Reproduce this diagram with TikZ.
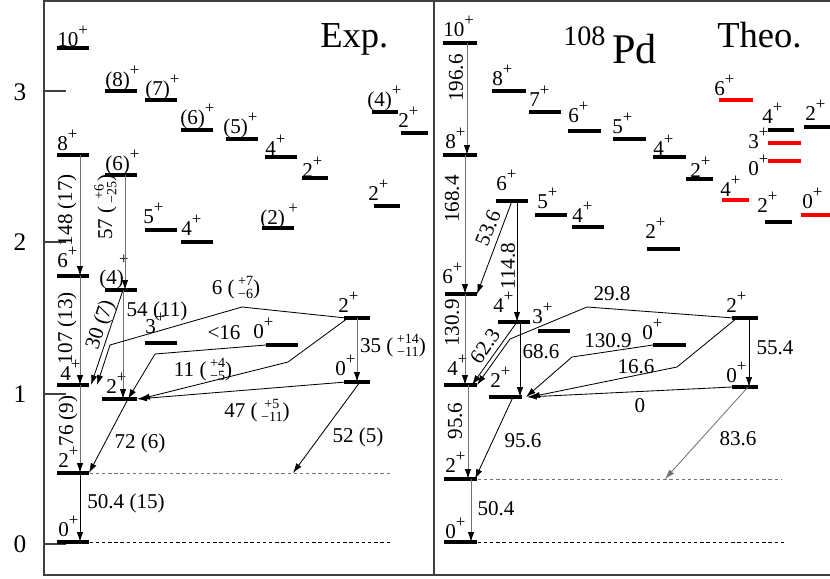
\documentclass[tikz,border=0pt]{standalone}
\usepackage{fontspec}
\setmainfont{Liberation Serif}
\usetikzlibrary{arrows.meta}
\newcommand{\pp}{\raisebox{7.3pt}{\fontsize{12}{12}\selectfont+}}
\newcommand{\unc}[2]{(\,$\vcenter{\hbox{\fontsize{10}{11}\selectfont\def\arraystretch{0.72}\begin{tabular}{@{}c@{}}#1\\#2\end{tabular}}}$)}
\tikzset{
  lev/.style={fill=black, inner sep=0pt, minimum height=2.3pt, anchor=west, minimum width=#1*0.025cm},
  rlev/.style={lev=#1, fill=red},
  spin/.style={anchor=base west, inner sep=0pt, font=\fontsize{15}{17}\selectfont},
  tlab/.style={inner sep=0pt, font=\fontsize{15}{17}\selectfont},
  tr/.style={line width=0.6pt, -{Latex[length=7pt,width=4.5pt]}},
  gtr/.style={tr, draw=black!55, -{Latex[length=7pt,width=4.5pt,color=black]}},
  band/.style={dash pattern=on 2.4pt off 2pt, line width=0.6pt},
  frame/.style={draw=black!75, line width=0.9pt},
  tick/.style={inner sep=0pt, font=\fontsize{18}{20}\selectfont},
}
\begin{document}
\begin{tikzpicture}[x=0.025cm, y=-0.025cm]
     \useasboundingbox (0,0) rectangle (830,579);
     % Frame and energy axis
     \draw[frame] (830,1) -- (44,1) -- (44,575) -- (830,575);
     \draw[frame] (434,1) -- (434,575);
     \draw[frame] (44,544) -- (66,544);
     \draw[frame] (44,394) -- (66,394);
     \draw[frame] (44,242) -- (66,242);
     \draw[frame] (44,91) -- (66,91);
     \node[tick] (y0) at (20,544) {0};
     \node[tick] (y1) at (20,394) {1};
     \node[tick] (y2) at (20,242) {2};
     \node[tick] (y3) at (20,92) {3};
     % Titles
     \node[anchor=base west, inner sep=0pt, font=\fontsize{26}{30}\selectfont] (exp) at (320,47) {Exp.};
     \node[anchor=base west, inner sep=0pt, font=\fontsize{26}{30}\selectfont] (theo) at (717,47) {Theo.};
     \node[anchor=base west, inner sep=0pt, font=\fontsize{20}{24}\selectfont] (mass) at (563,45) {108};
     \node[anchor=base west, inner sep=0pt, font=\fontsize{30}{34}\selectfont] (pd) at (612,63) {Pd};

     % ---------------- Exp. levels
     \node[lev=32] (eg0) at (57,542) {};
     \node[lev=32] (eg2) at (57,473) {};
     \node[lev=32] (eg4) at (57,385) {};
     \node[lev=32] (eg6) at (57,276) {};
     \node[lev=32] (eg8) at (57,155) {};
     \node[lev=32] (eg10) at (57,48) {};
     \node[lev=32] (eb8) at (105,91) {};
     \node[lev=32] (eb7) at (145,100) {};
     \node[lev=32] (eb6) at (181,130) {};
     \node[lev=32] (eb5) at (226,139) {};
     \node[lev=32] (eb4) at (265,157) {};
     \node[lev=26] (eb2) at (302,178) {};
     \node[lev=26] (es4) at (372,112) {};
     \node[lev=27] (es2) at (401,133) {};
     \node[lev=26] (et2) at (374,206) {};
     \node[lev=32] (ep2) at (262,228) {};
     \node[lev=32] (ec6) at (105,175) {};
     \node[lev=32] (ec5) at (145,230) {};
     \node[lev=32] (ec4) at (181,242) {};
     \node[lev=32] (ed4) at (105,290) {};
     \node[lev=32] (ed3) at (145,343) {};
     \node[lev=35] (ed2) at (102,399) {};
     \node[lev=32] (eo0) at (266,345) {};
     \node[lev=26] (eq2) at (344,318) {};
     \node[lev=26] (eq0) at (344,382) {};
     % spins
     \node[spin] (s-eg10) at (57,46) {10\pp};
     \node[spin] (s-eg8) at (57,150) {8\pp};
     \node[spin] (s-eg6) at (57,267) {6\pp};
     \node[spin] (s-eg4) at (60,380) {4\pp};
     \node[spin] (s-eg2) at (58,467) {2\pp};
     \node[spin] (s-eg0) at (58,536) {0\pp};
     \node[spin] (s-eb8) at (105,86) {(8)\pp};
     \node[spin] (s-eb7) at (145,95) {(7)\pp};
     \node[spin] (s-eb6) at (180,124) {(6)\pp};
     \node[spin] (s-eb5) at (223,133) {(5)\pp};
     \node[spin] (s-eb4) at (265,155) {4\pp};
     \node[spin] (s-eb2) at (302,177) {2\pp};
     \node[spin] (s-es4) at (367,106) {(4)\pp};
     \node[spin] (s-es2) at (398,127) {2\pp};
     \node[spin] (s-et2) at (368,200) {2\pp};
     \node[spin] (s-ep2) at (260,224) {(2)\,\pp};
     \node[spin] (s-ec6) at (105,170) {(6)\pp};
     \node[spin] (s-ec5) at (143,223) {5\pp};
     \node[spin] (s-ec4) at (181,235) {4\pp};
     \node[spin] (s-ed4) at (99,284) {(4)};
     \node[tlab, font=\fontsize{12}{12}\selectfont] (p-ed4) at (124,260) {+};
     \node[spin] (s-ed3) at (145,333) {3\pp};
     \node[spin] (s-eo0) at (253,338) {0\pp};
     \node[spin] (s-eq2) at (338,312) {2\pp};
     \node[spin] (s-eq0) at (335,375) {0\pp};
     \node[spin] (s-ed2) at (106,393) {2\pp};
     % transitions
     \draw[band, black!55] (eg2.east) -- (392,0 |- eg2);
     \draw[band] (eg0.east) -- (390,0 |- eg0);
     \draw[gtr] (80,0 |- eg8) -- (80,0 |- eg6);
     \draw[gtr] (80,0 |- eg6) -- (80,0 |- eg4);
     \draw[gtr] (80,0 |- eg4) -- (80,0 |- eg2);
     \draw[tr] (80,0 |- eg2) -- (80,0 |- eg0);
     \draw[gtr] (125,0 |- ec6) -- (125,0 |- ed4);
     \draw[tr] (123,0 |- ed4) -- (91,0 |- eg4);
     \draw[gtr] (123,0 |- ed4) -- (123,0 |- ed2);
     \draw[tr] (346,0 |- eq2) -- (242,307) -- (110,345) -- (97,0 |- eg4);
     \draw[tr] (266,0 |- eo0) -- (155,354) -- (128,0 |- ed2);
     \draw[tr] (348,0 |- eq2) -- (288,362) -- (140,0 |- ed2);
     \draw[tr] (346,0 |- eq0) -- (137,0 |- ed2);
     \draw[gtr] (357,0 |- eq2) -- (357,0 |- eq0);
     \draw[tr] (360,0 |- eq0) -- (293,0 |- eg2);
     \draw[tr] (128,0 |- ed2) -- (89,0 |- eg2);
     % B(E2) values
     \node[tlab, rotate=90] (g148) at (67,210) {148 (17)};
     \node[tlab, rotate=90] (g57) at (107,207) {57 \unc{+6}{−25}};
     \node[tlab, rotate=90] (g107) at (67,328) {107 (13)};
     \node[tlab, rotate=90] (g76) at (68,421) {76 (9)};
     \node[tlab, rotate=72] (g30) at (101,325) {30 (7)};
     \node[tlab] (g54) at (157,311) {54 (11)};
     \node[tlab] (g6) at (236,289) {6 \unc{+7}{−6}};
     \node[tlab] (g16) at (224,333) {<16};
     \node[tlab] (g11) at (203,371) {11 \unc{+4}{−5}};
     \node[tlab] (g35) at (393,347) {35 \unc{+14}{−11}};
     \node[tlab] (g47) at (257,412) {47 \unc{+5}{−11}};
     \node[tlab] (g72) at (140,443) {72 (6)};
     \node[tlab] (g52) at (358,437) {52 (5)};
     \node[tlab] (g50) at (126,503) {50.4 (15)};

     % ---------------- Theo. levels
     \node[lev=33] (tg0) at (444,542) {};
     \node[lev=33] (tg2) at (444,479) {};
     \node[lev=33] (tg4) at (444,385) {};
     \node[lev=32] (tg6) at (445,294) {};
     \node[lev=34] (tg8) at (443,155) {};
     \node[lev=34] (tg10) at (443,43) {};
     \node[lev=34] (tb8) at (492,91) {};
     \node[lev=32] (tb7) at (529,112) {};
     \node[lev=33] (tb6) at (568,131) {};
     \node[lev=33] (tb5) at (613,139) {};
     \node[lev=33] (tb4) at (653,157) {};
     \node[lev=27] (tb2) at (686,179) {};
     \node[rlev=34] (tr6) at (719,100) {};
     \node[lev=26] (tk4) at (768,130) {};
     \node[rlev=33] (tr3) at (768,143) {};
     \node[rlev=33] (tr0) at (768,161) {};
     \node[lev=26] (tk2) at (804,127) {};
     \node[rlev=27] (tr4) at (722,200) {};
     \node[lev=27] (tm2) at (765,222) {};
     \node[rlev=29] (tz0) at (801,215) {};
     \node[lev=33] (tn2) at (647,249) {};
     \node[lev=32] (tc6) at (496,201) {};
     \node[lev=32] (tc5) at (535,215) {};
     \node[lev=32] (tc4) at (572,227) {};
     \node[lev=32] (td4) at (498,322) {};
     \node[lev=32] (td3) at (538,331) {};
     \node[lev=33] (td2) at (489,397) {};
     \node[lev=33] (to0) at (653,345) {};
     \node[lev=26] (tq2) at (732,318) {};
     \node[lev=26] (tq0) at (732,387) {};
     % spins
     \node[spin] (s-tg10) at (443,36) {10\pp};
     \node[spin] (s-tg8) at (445,148) {8\pp};
     \node[spin] (s-tb8) at (492,85) {8\pp};
     \node[spin] (s-tb7) at (529,106) {7\pp};
     \node[spin] (s-tb6) at (568,122) {6\pp};
     \node[spin] (s-tb5) at (612,133) {5\pp};
     \node[spin] (s-tb4) at (653,155) {4\pp};
     \node[spin] (s-tb2) at (690,177) {2\pp};
     \node[spin] (s-tr6) at (714,95) {6\pp};
     \node[spin] (s-tk4) at (762,123) {4\pp};
     \node[spin] (s-tr3) at (748,148) {3\pp};
     \node[spin] (s-tr0) at (748,175) {0\pp};
     \node[spin] (s-tk2) at (805,120) {2\pp};
     \node[spin] (s-tr4) at (720,196) {4\pp};
     \node[spin] (s-tm2) at (757,212) {2\pp};
     \node[spin] (s-tz0) at (802,208) {0\pp};
     \node[spin] (s-tn2) at (645,238) {2\pp};
     \node[spin] (s-tg6) at (442,283) {6\pp};
     \node[spin] (s-tc6) at (496,190) {6\pp};
     \node[spin] (s-tc5) at (537,208) {5\pp};
     \node[spin] (s-tc4) at (572,222) {4\pp};
     \node[spin] (s-td4) at (493,312) {4\pp};
     \node[spin] (s-td3) at (532,323) {3\pp};
     \node[spin] (s-tg4) at (447,375) {4\pp};
     \node[spin] (s-td2) at (490,387) {2\pp};
     \node[spin] (s-to0) at (642,339) {0\pp};
     \node[spin] (s-tq2) at (726,312) {2\pp};
     \node[spin] (s-tq0) at (726,382) {0\pp};
     \node[spin] (s-tg2) at (445,472) {2\pp};
     \node[spin] (s-tg0) at (445,538) {0\pp};
     % transitions
     \draw[band, black!55] (tg2.east) -- (782,0 |- tg2);
     \draw[band] (tg0.east) -- (785,0 |- tg0);
     \draw[gtr] (467,0 |- tg10) -- (467,0 |- tg8);
     \draw[gtr] (465,0 |- tg8) -- (465,0 |- tg6);
     \draw[gtr] (465,0 |- tg6) -- (465,0 |- tg4);
     \draw[gtr] (468,0 |- tg4) -- (468,0 |- tg2);
     \draw[gtr] (471,0 |- tg2) -- (471,0 |- tg0);
     \draw[tr] (512,0 |- tc6) -- (477,0 |- tg6);
     \draw[tr] (517,0 |- tc6) -- (517,0 |- td4);
     \draw[tr] (517,0 |- td4) -- (472,0 |- tg4);
     \draw[tr] (734,0 |- tq2) -- (587,307) -- (510,339) -- (477,0 |- tg4);
     \draw[tr] (520,0 |- td4) -- (520,0 |- td2);
     \draw[tr] (653,0 |- to0) -- (572,357) -- (526,0 |- td2);
     \draw[tr] (737,0 |- tq2) -- (677,367) -- (530,0 |- td2);
     \draw[tr] (732,0 |- tq0) -- (527,0 |- td2);
     \draw[tr] (749,0 |- tq2) -- (749,0 |- tq0);
     \draw[tr, draw=black!55] (748,0 |- tq0) -- (665,0 |- tg2);
     \draw[tr] (513,0 |- td2) -- (475,0 |- tg2);
     % B(E2) values
     \node[tlab, rotate=90] (h196) at (456,78) {196.6};
     \node[tlab, rotate=90] (h168) at (452,199) {168.4};
     \node[tlab, rotate=68] (h53) at (488,228) {53.6};
     \node[tlab, rotate=90] (h114) at (508,266) {114.8};
     \node[tlab, rotate=90] (h130) at (452,323) {130.9};
     \node[tlab, rotate=55] (h62) at (485,346) {62.3};
     \node[tlab] (h29) at (612,294) {29.8};
     \node[tlab] (h68) at (541,352) {68.6};
     \node[tlab] (h130b) at (608,341) {130.9};
     \node[tlab] (h16) at (636,367) {16.6};
     \node[tlab] (h0) at (640,406) {0};
     \node[tlab] (h55) at (775,348) {55.4};
     \node[tlab, rotate=90] (h95) at (455,421) {95.6};
     \node[tlab] (h95b) at (523,441) {95.6};
     \node[tlab] (h83) at (738,439) {83.6};
     \node[tlab] (h50) at (496,509) {50.4};
\end{tikzpicture}
\end{document}
